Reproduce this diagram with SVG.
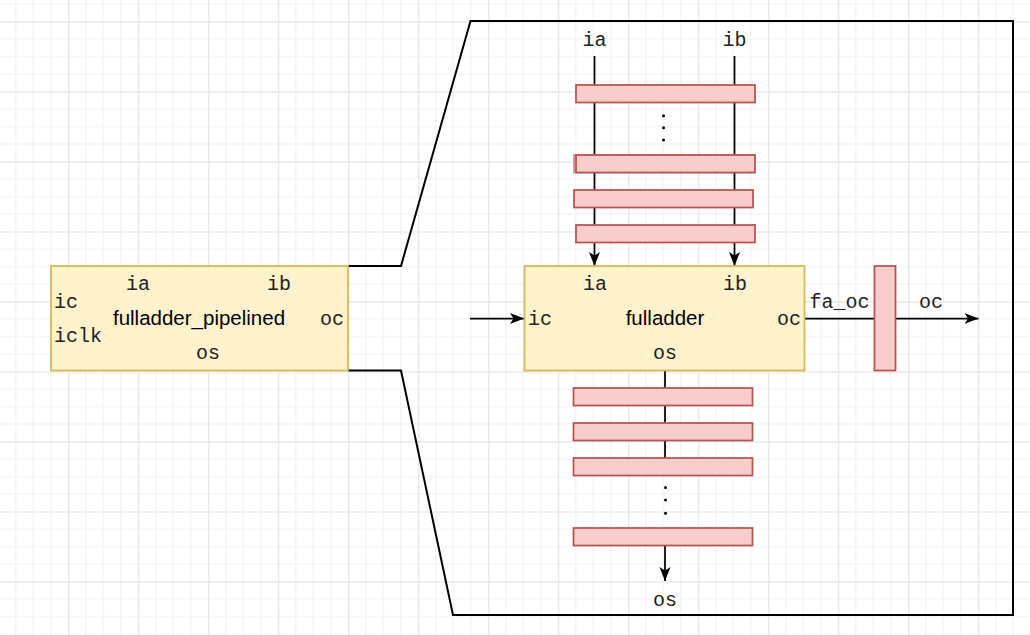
<svg xmlns="http://www.w3.org/2000/svg" width="1030" height="635" viewBox="0 0 1030 635">
<defs>
<pattern id="grid" patternUnits="userSpaceOnUse" x="-1.7" y="-48.5" width="70" height="70">
<path d="M17.5 0V70M35 0V70M52.5 0V70M0 17.5H70M0 35H70M0 52.5H70" stroke="#f0f0f0" stroke-width="1" fill="none"/>
<path d="M0.5 0V70M0 0.5H70" stroke="#e0e0e0" stroke-width="1" fill="none"/>
</pattern>
<marker id="arr" markerUnits="userSpaceOnUse" markerWidth="16" markerHeight="12" refX="14" refY="5.5" orient="auto">
<path d="M0,0 L14,5.5 L0,11 L3.5,5.5 z" fill="#000"/>
</marker>
<style>
.box{fill:#fff2cc;stroke:#d6b656;stroke-width:1.75}
.reg{fill:#f8cecc;stroke:#b85450;stroke-width:1.75}
.wire{fill:none;stroke:#000;stroke-width:1.75}
.outline{fill:none;stroke:#000;stroke-width:2}
.mono{font-family:"Liberation Mono","Courier New",monospace;font-size:20px;fill:#222}
.sans{font-family:"Liberation Sans",Arial,sans-serif;font-size:20.5px;fill:#000}
.mid{text-anchor:middle}
.dot{fill:#000}
</style>
</defs>
<rect width="1030" height="635" fill="#fff"/>
<rect width="1030" height="635" fill="url(#grid)"/>

<g id="outline">
<polyline class="outline" points="348,266 401,266 470.5,21 1013,21 1013,615 453,615 401,370.5 348,370.5"/>
</g>

<g id="connectors">
<line class="wire" x1="594.5" y1="56" x2="594.5" y2="266" marker-end="url(#arr)"/>
<line class="wire" x1="734.5" y1="56" x2="734.5" y2="266" marker-end="url(#arr)"/>
<line class="wire" x1="470" y1="318.5" x2="524" y2="318.5" marker-end="url(#arr)"/>
<line class="wire" x1="665" y1="370.5" x2="665" y2="476"/>
<line class="wire" x1="665" y1="545.5" x2="665" y2="581" marker-end="url(#arr)"/>
<line class="wire" x1="804" y1="318.5" x2="874" y2="318.5"/>
<line class="wire" x1="896" y1="318.5" x2="978.5" y2="318.5" marker-end="url(#arr)"/>
</g>

<g id="fulladder_pipelined">
<rect class="box" x="51" y="266" width="297" height="104.5"/>
<text class="mono mid" x="138" y="290">ia</text>
<text class="mono mid" x="279" y="290">ib</text>
<text class="mono" x="54" y="308">ic</text>
<text class="mono" x="54" y="342">iclk</text>
<text class="sans mid" x="199" y="325">fulladder_pipelined</text>
<text class="mono mid" x="332" y="325">oc</text>
<text class="mono mid" x="208" y="359">os</text>
</g>

<g id="fulladder">
<rect class="box" x="524.5" y="266" width="280" height="104.5"/>
<text class="mono mid" x="595" y="290">ia</text>
<text class="mono mid" x="735" y="290">ib</text>
<text class="mono" x="528" y="325">ic</text>
<text class="sans mid" x="665" y="325">fulladder</text>
<text class="mono mid" x="789" y="325">oc</text>
<text class="mono mid" x="665" y="359">os</text>
</g>

<g id="input-registers">
<rect class="reg" x="576" y="85" width="179" height="17.5"/>
<rect class="reg" x="574" y="155" width="179" height="17.5" stroke-opacity="0.6"/>
<rect class="reg" x="576" y="155" width="179" height="17.5"/>
<rect class="reg" x="574" y="190" width="179" height="17.5"/>
<rect class="reg" x="576" y="225" width="179" height="17.5"/>
<circle class="dot" cx="663.5" cy="115.7" r="1.5"/>
<circle class="dot" cx="663.5" cy="127.7" r="1.5"/>
<circle class="dot" cx="663.5" cy="140" r="1.5"/>
</g>

<g id="output-registers">
<rect class="reg" x="573.5" y="388" width="179" height="17.5"/>
<rect class="reg" x="573.5" y="423" width="179" height="17.5"/>
<rect class="reg" x="573.5" y="458" width="179" height="17.5"/>
<rect class="reg" x="573.5" y="528" width="179" height="17.5"/>
<circle class="dot" cx="665.5" cy="487.5" r="1.5"/>
<circle class="dot" cx="665.5" cy="500" r="1.5"/>
<circle class="dot" cx="665.5" cy="513.3" r="1.5"/>
</g>

<g id="oc-register">
<rect class="reg" x="874.5" y="266" width="21" height="104.5"/>
</g>

<g id="labels">
<text class="mono mid" x="594.5" y="46">ia</text>
<text class="mono mid" x="734.5" y="46">ib</text>
<text class="mono mid" x="839.5" y="308">fa_oc</text>
<text class="mono mid" x="931" y="308">oc</text>
<text class="mono mid" x="665" y="606">os</text>
</g>
</svg>
